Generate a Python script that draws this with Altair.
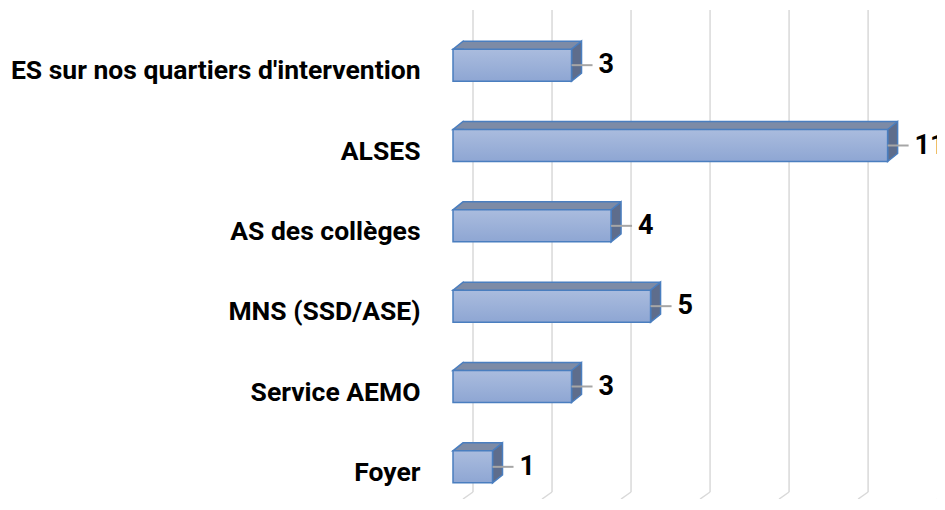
import altair as alt
import pandas as pd

categories = [
    "ES sur nos quartiers d'intervention",
    "ALSES",
    "AS des collèges",
    "MNS (SSD/ASE)",
    "Service AEMO",
    "Foyer",
]
values = [3, 11, 4, 5, 3, 1]
grid_ticks = [0, 2, 4, 6, 8, 10, 12]

df = pd.DataFrame({"cat": categories, "val": values, "zero": [0] * len(values)})
grid_df = pd.DataFrame({"g": grid_ticks})

BORDER = "#4A7EBF"
TOP = "#7D8BA6"
SIDE = "#5E6D8C"
GRID = "#D9D9D9"

xscale = alt.Scale(domain=[0, 12.25], nice=False, zero=True)
yscale = alt.Scale(range=[0, 482], paddingInner=0, paddingOuter=0)

Y = alt.Y(
    "cat:N",
    sort=categories,
    scale=yscale,
    axis=alt.Axis(
        title=None,
        domain=False,
        ticks=False,
        grid=False,
        labelFont="Roboto",
        labelFontSize=26.5,
        labelFontWeight="bold",
        labelColor="#000000",
        labelPadding=33,
        labelOffset=6,
        labelLimit=0,
    ),
)
X = lambda f: alt.X(f, scale=xscale, axis=None)

base = alt.Chart(df)

# back wall gridlines
grid_v = alt.Chart(grid_df).mark_rule(color=GRID, strokeWidth=1.5, xOffset=20).encode(
    x=X("g:Q"),
    y=alt.value(-15),
    y2=alt.value(467),
)
grid_d = alt.Chart(grid_df).mark_rule(
    color=GRID, strokeWidth=1.5, xOffset=20, x2Offset=10
).encode(
    x=X("g:Q"),
    x2="g:Q",
    y=alt.value(467),
    y2=alt.value(474),
)

# top face (back copy of the bar, shifted up/right)
back = base.mark_bar(
    size=32,
    fill=TOP,
    strokeWidth=0,
    xOffset=10,
    x2Offset=10,
    yOffset=-8,
    y2Offset=-8,
).encode(x=X("val:Q"), y=Y)

top_edge = base.mark_rule(
    color=BORDER, strokeWidth=1.5, xOffset=10, x2Offset=10, yOffset=-24, y2Offset=-24
).encode(x=X("zero:Q"), x2="val:Q", y=Y)

side = base.mark_point(
    shape="M0,-16L10,-24L10,8L0,16Z",
    size=4,
    filled=True,
    fill=SIDE,
    stroke=BORDER,
    strokeWidth=1.5,
    opacity=1,
).encode(x=X("val:Q"), y=Y)

left_tri = base.mark_point(
    shape="M11,-16L0,-16L10,-24L11,-24",
    size=4,
    filled=True,
    fill=TOP,
    stroke=BORDER,
    strokeWidth=1.5,
    opacity=1,
).encode(x=X("zero:Q"), y=Y)

front = base.mark_bar(
    size=32,
    color=alt.Gradient(
        gradient="linear",
        stops=[
            alt.GradientStop(color="#AABCDE", offset=0),
            alt.GradientStop(color="#8EA6D3", offset=1),
        ],
        x1=0, x2=0, y1=0, y2=1,
    ),
    stroke=BORDER,
    strokeWidth=1.5,
).encode(x=X("val:Q"), y=Y)

leader = base.mark_rule(color="#A6A6A6", strokeWidth=2, x2Offset=21).encode(
    x=X("val:Q"), x2="val:Q", y=Y
)

labels = base.mark_text(
    align="left",
    baseline="middle",
    dx=27,
    font="Roboto",
    fontSize=27,
    fontWeight="bold",
    color="#000000",
).encode(x=X("val:Q"), y=Y, text="val:Q")

chart = (
    alt.layer(grid_v, grid_d, back, top_edge, side, left_tri, front, leader, labels)
    .properties(
        width=484,
        height=474,
        padding={"left": 445, "top": 17, "right": 0, "bottom": 0},
        autosize=alt.AutoSizeParams(type="none"),
        view=alt.ViewBackground(stroke="transparent", strokeWidth=0),
    )
    .configure_view(strokeWidth=0, strokeOpacity=0, stroke="transparent")
    .configure_axis(grid=False, domain=False, ticks=False)
    .configure_axisX(grid=False, domain=False, ticks=False)
    .configure_axisY(grid=False, domain=False, ticks=False)
    .configure(background="#FFFFFF")
)

chart.save("out.html", embed_options={"renderer": "svg", "actions": False})
